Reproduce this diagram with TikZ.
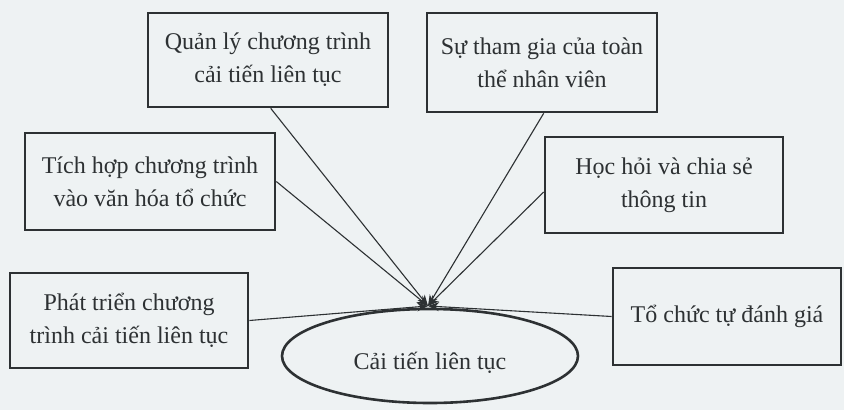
\documentclass[tikz,border=0pt]{standalone}
\usepackage{fontspec}
\setmainfont{Liberation Serif}
\usetikzlibrary{shapes.geometric,arrows.meta,calc}
\definecolor{paper}{RGB}{238,242,243}
\definecolor{ink}{RGB}{45,49,51}
\tikzset{
  txt/.style={font=\fontsize{24}{33}\selectfont,text=ink},
  boxnode/.style={txt,draw=ink,line width=2.6pt,rectangle,align=center,inner sep=0pt},
  link/.style={draw=ink,line width=1.1pt,-{Stealth[length=11pt,width=9pt]}}
}
\begin{document}
\begin{tikzpicture}[x=1pt,y=-1pt]
\fill[paper] (0,0) rectangle (844,410);
\useasboundingbox (0,0) rectangle (844,410);
\node[boxnode,minimum width=240pt,minimum height=94pt] (b1) at (268,60) {Quản lý chương trình\\cải tiến liên tục};
\node[boxnode,minimum width=230pt,minimum height=99pt] (b2) at (542,62.5) {Sự tham gia của toàn\\thể nhân viên};
\node[boxnode,minimum width=250pt,minimum height=97pt] (b3) at (150,181.5) {Tích hợp chương trình\\vào văn hóa tổ chức};
\node[boxnode,minimum width=238pt,minimum height=96pt] (b4) at (664,185) {Học hỏi và chia sẻ\\thông tin};
\node[boxnode,minimum width=238pt,minimum height=95pt] (b5) at (129,320.5) {Phát triển chương\\trình cải tiến liên tục};
\node[boxnode,minimum width=228pt,minimum height=97pt] (b6) at (727,316.5) {Tổ chức tự đánh giá};
\node[ellipse,draw=ink,line width=2.6pt,minimum width=296pt,minimum height=94pt,inner sep=0pt] (c) at (430,356) {};
\node[txt] (ct) at ([yshift=-7pt]c.center) {Cải tiến liên tục};
\coordinate (p) at (428,306);
\draw[link] ([xshift=124pt]b1.south west) -- (p);
\draw[link] ([xshift=118pt]b2.south west) -- (p);
\draw[link] (b3.east) -- (p);
\draw[link] ([yshift=-7pt]b4.west) -- (p);
\draw[link] (b5.east) -- (p);
\draw[link] (b6.west) -- (p);
\end{tikzpicture}
\end{document}
